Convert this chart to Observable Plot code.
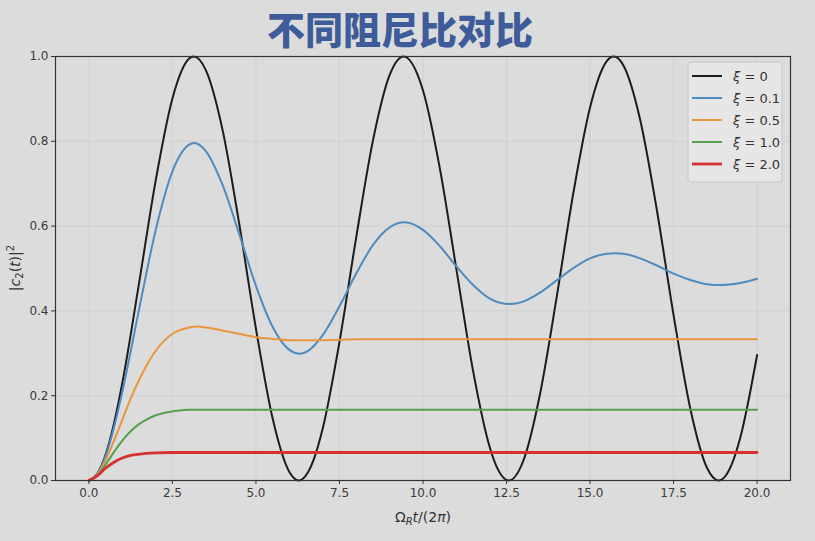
<!DOCTYPE html>
<html>
<head>
<meta charset="utf-8">
<script src="https://cdn.jsdelivr.net/npm/d3@7"></script>
<script src="https://cdn.jsdelivr.net/npm/@observablehq/plot@0.6"></script>
<style>
  body { margin: 0; background: #dcdcdc; }
  #chart { width: 815px; height: 541px; }
</style>
</head>
<body>
<div id="chart"></div>
<script>
// Excited-state population |c2(t)|^2 versus normalised time, for several damping ratios ξ.

// ξ = 0 (undamped Rabi oscillation)
const tBlack = [0, 0.25, 0.5, 0.75, 1, 1.5, 2, 2.5, 3, 3.14, 3.5, 4, 4.5, 5, 5.5, 6, 6.28, 6.75, 7, 7.5, 8, 8.5, 9, 9.42, 10, 10.5, 11, 11.5, 12, 12.25, 12.57, 13, 13.5, 14, 14.5, 15, 15.5, 15.71, 16, 16.5, 17, 17.5, 18, 18.5, 18.85, 19.25, 19.5, 20];
const vBlack = [0, 0.016, 0.061, 0.134, 0.230, 0.465, 0.708, 0.901, 0.995, 1.0, 0.968, 0.827, 0.605, 0.358, 0.146, 0.020, 0.0, 0.054, 0.123, 0.327, 0.573, 0.801, 0.956, 1.0, 0.920, 0.738, 0.498, 0.258, 0.078, 0.025, 0.0, 0.046, 0.203, 0.432, 0.678, 0.880, 0.989, 1.0, 0.979, 0.851, 0.638, 0.390, 0.170, 0.030, 0.0, 0.040, 0.102, 0.296];

// ξ = 0.1
const tBlue = [0, 0.25, 0.5, 0.75, 1, 1.5, 2, 2.5, 3, 3.15, 3.5, 4, 4.5, 5, 5.5, 6, 6.3, 6.5, 7, 7.5, 8, 8.5, 9, 9.45, 10, 10.5, 11, 11.5, 12, 12.6, 13, 13.5, 14, 14.5, 15, 15.5, 15.75, 16, 16.5, 17, 17.5, 18, 18.5, 18.9, 19.5, 20];
const vBlue = [0, 0.015, 0.058, 0.125, 0.209, 0.403, 0.591, 0.729, 0.792, 0.796, 0.777, 0.697, 0.581, 0.459, 0.362, 0.308, 0.299, 0.303, 0.343, 0.411, 0.488, 0.555, 0.597, 0.609, 0.591, 0.553, 0.505, 0.461, 0.429, 0.416, 0.422, 0.443, 0.472, 0.501, 0.524, 0.535, 0.536, 0.535, 0.524, 0.507, 0.488, 0.473, 0.463, 0.461, 0.466, 0.476];

// ξ = 0.5
const tOrange = [0, 0.25, 0.5, 0.75, 1, 1.25, 1.5, 1.75, 2, 2.5, 3, 3.25, 3.5, 4, 4.5, 5, 5.5, 6, 6.5, 7, 8, 9, 20];
const vOrange = [0, 0.014, 0.048, 0.094, 0.143, 0.193, 0.237, 0.275, 0.306, 0.346, 0.361, 0.363, 0.361, 0.354, 0.346, 0.338, 0.334, 0.331, 0.331, 0.331, 0.333, 0.333, 0.333];

// ξ = 1.0
const tGreen = [0, 0.25, 0.5, 0.75, 1, 1.25, 1.5, 1.75, 2, 2.5, 3, 4, 20];
const vGreen = [0, 0.012, 0.038, 0.067, 0.094, 0.116, 0.133, 0.145, 0.154, 0.163, 0.167, 0.167, 0.167];

// ξ = 2.0
const tRed = [0, 0.25, 0.5, 0.75, 1, 1.25, 1.5, 2, 2.5, 3, 20];
const vRed = [0, 0.011, 0.029, 0.043, 0.053, 0.059, 0.062, 0.065, 0.066, 0.066, 0.066];

const seriesNames = ["0", "0.1", "0.5", "1.0", "2.0"];
const seriesColors = ["#1c1c1c", "#4f8bbf", "#e8963c", "#55a14b", "#d6302f"];
const seriesWidths = [2, 2, 2, 2, 2.8];
const seriesT = [tBlack, tBlue, tOrange, tGreen, tRed];
const seriesV = [vBlack, vBlue, vOrange, vGreen, vRed];

const xTicks = [0, 2.5, 5, 7.5, 10, 12.5, 15, 17.5, 20];
const yTicks = [0, 0.2, 0.4, 0.6, 0.8, 1.0];

const titleText = "不同阻尼比对比";

const lineMarks = seriesNames.map((name, i) =>
  Plot.line(seriesT[i].map((t, j) => ({t, v: seriesV[i][j]})), {
    x: "t", y: "v",
    stroke: seriesColors[i],
    strokeWidth: seriesWidths[i],
    curve: "monotone-x"
  })
);

const chart = Plot.plot({
  width: 815,
  height: 541,
  marginTop: 56,
  marginBottom: 61,
  marginLeft: 55,
  marginRight: 25,
  style: { background: "#dcdcdc", fontFamily: "DejaVu Sans, sans-serif", fontSize: "12px", color: "#3a3a3a", overflow: "visible" },
  x: { domain: [-1, 21] },
  y: { domain: [0, 1] },
  marks: [
    Plot.gridX(xTicks, { stroke: "#d0d0d0", strokeOpacity: 1 }),
    Plot.gridY(yTicks, { stroke: "#d0d0d0", strokeOpacity: 1 }),
    ...lineMarks,
    Plot.frame({ stroke: "#333", strokeWidth: 1.2 }),
    Plot.axisX(xTicks, { tickFormat: d => d.toFixed(1), tickSize: 4, tickPadding: 4, label: null, stroke: "#333" }),
    Plot.axisY(yTicks, { tickFormat: d => d.toFixed(1), tickSize: 4, tickPadding: 3, label: null, stroke: "#333" })
  ]
});

document.getElementById("chart").appendChild(chart);

const svg = d3.select(chart);

// Title
svg.append("text")
  .attr("x", 400).attr("y", 27)
  .attr("text-anchor", "middle")
  .attr("dominant-baseline", "central")
  .attr("font-family", "'Noto Sans CJK SC', sans-serif")
  .attr("font-weight", 900)
  .attr("font-size", 38)
  .attr("fill", "#3e5c99")
  .text(titleText);

// Y-axis label: |c2(t)|^2
const yl = svg.append("text")
  .attr("transform", "translate(20,268) rotate(-90)")
  .attr("text-anchor", "middle")
  .attr("font-family", "DejaVu Sans, sans-serif")
  .attr("font-size", 14)
  .attr("fill", "#333");
yl.append("tspan").text("|");
yl.append("tspan").attr("font-style", "italic").text("c");
yl.append("tspan").attr("font-size", 10).attr("dy", 3).text("2");
yl.append("tspan").attr("dy", -3).text("(");
yl.append("tspan").attr("font-style", "italic").text("t");
yl.append("tspan").text(")|");
yl.append("tspan").attr("font-size", 10).attr("dy", -6).text("2");

// X-axis label: Ω_R t/(2π)
const xl = svg.append("text")
  .attr("x", 423).attr("y", 522)
  .attr("text-anchor", "middle")
  .attr("font-family", "DejaVu Sans, sans-serif")
  .attr("font-size", 14)
  .attr("fill", "#333");
xl.append("tspan").text("Ω");
xl.append("tspan").attr("font-size", 10).attr("font-style", "italic").attr("dy", 3).text("R");
xl.append("tspan").attr("font-style", "italic").attr("dy", -3).text("t");
xl.append("tspan").text("/(2");
xl.append("tspan").attr("font-style", "italic").text("π");
xl.append("tspan").text(")");

// Legend
const lg = svg.append("g").attr("text-anchor", "start");
lg.append("rect")
  .attr("x", 688).attr("y", 62).attr("width", 94).attr("height", 120)
  .attr("rx", 3)
  .attr("fill", "#e6e6e6").attr("stroke", "#c6c6c6");
seriesNames.forEach((name, i) => {
  const y = 76 + i * 22;
  lg.append("line")
    .attr("x1", 692).attr("x2", 722).attr("y1", y).attr("y2", y)
    .attr("stroke", seriesColors[i]).attr("stroke-width", seriesWidths[i]);
  const tx = lg.append("text")
    .attr("x", 733).attr("y", y)
    .attr("text-anchor", "start")
    .attr("dominant-baseline", "central")
    .attr("font-family", "DejaVu Sans, sans-serif")
    .attr("font-size", 13)
    .attr("fill", "#333");
  tx.append("tspan").attr("font-style", "italic").text("ξ");
  tx.append("tspan").text(" = " + name);
});
</script>
</body>
</html>
